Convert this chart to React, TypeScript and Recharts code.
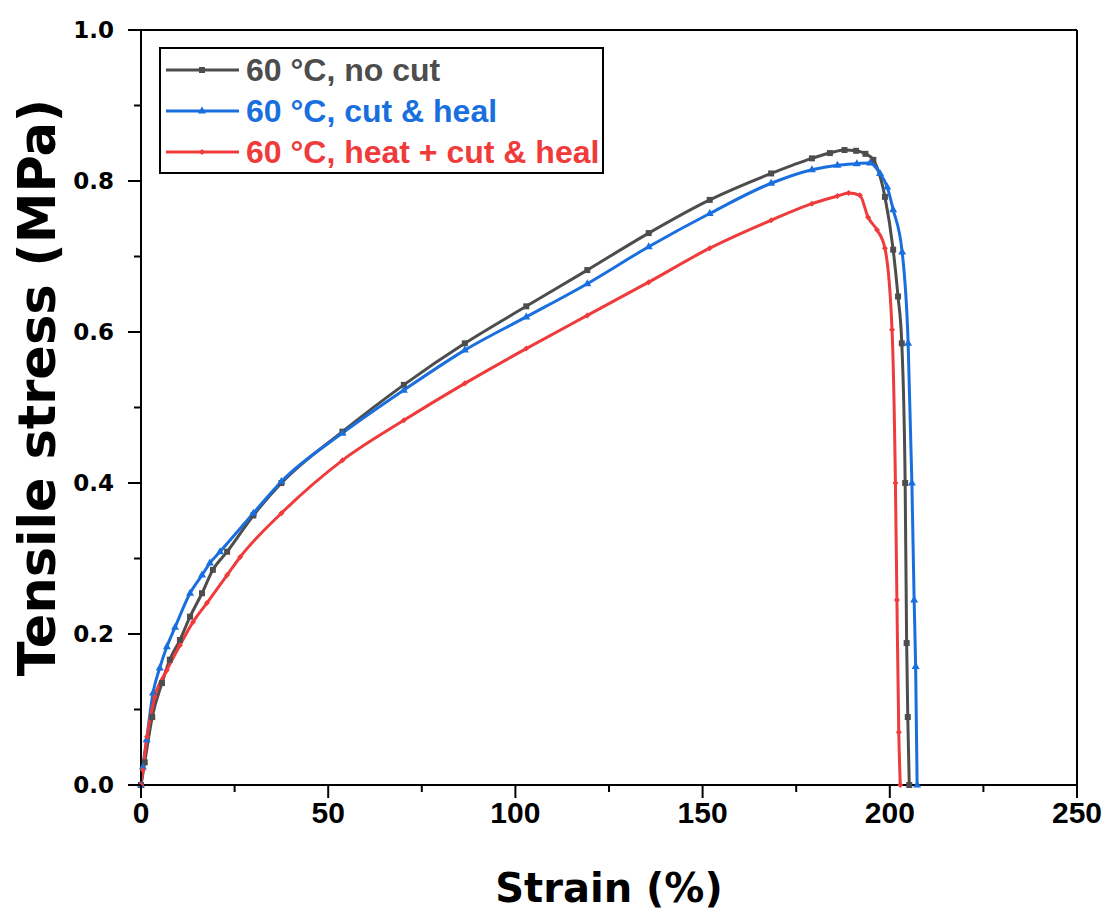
import React from "react";
import { LineChart, Line, XAxis, YAxis, ReferenceLine } from "recharts";

// strain (%) / tensile stress (MPa)
const noCutX = [0, 1, 3, 5.6, 7.7, 10.4, 13.1, 16.3, 19.2, 23, 30, 37.5, 53.8, 70.2, 86.5, 102.9, 119.2, 135.6, 151.9, 168.3, 179.2, 184, 187.9, 191, 193.5, 195.6, 198.7, 200.9, 202.2, 203.2, 204.1, 204.5, 204.8, 205.2];
const noCutY = [0, 0.03, 0.09, 0.135, 0.166, 0.192, 0.223, 0.254, 0.285, 0.309, 0.357, 0.4, 0.468, 0.53, 0.585, 0.634, 0.682, 0.731, 0.775, 0.81, 0.83, 0.837, 0.841, 0.84, 0.836, 0.828, 0.779, 0.709, 0.647, 0.585, 0.4, 0.188, 0.09, 0];

const healX = [0, 0.5, 1.5, 3.2, 5, 6.9, 9.1, 13.1, 16.3, 18.4, 21.1, 30, 37.5, 53.8, 70.2, 86.5, 102.9, 119.2, 135.6, 151.9, 168.3, 179.2, 186, 191.2, 194.7, 197.4, 199.3, 200.9, 203.3, 204.9, 205.9, 206.5, 206.9, 207.3];
const healY = [0, 0.024, 0.06, 0.122, 0.155, 0.183, 0.209, 0.254, 0.278, 0.294, 0.309, 0.36, 0.402, 0.466, 0.523, 0.576, 0.62, 0.664, 0.713, 0.757, 0.797, 0.815, 0.821, 0.823, 0.824, 0.81, 0.792, 0.762, 0.706, 0.585, 0.4, 0.245, 0.157, 0];

const heatX = [0, 0.5, 1.6, 3.7, 6.9, 10.4, 13.9, 17.6, 23, 26.5, 37.5, 53.8, 70.2, 86.5, 102.9, 119.2, 135.6, 151.9, 168.3, 179.2, 186, 189, 192, 194.2, 196.6, 198.7, 200.6, 201.5, 201.9, 202.4, 202.8];
const heatY = [0, 0.02, 0.064, 0.117, 0.152, 0.185, 0.216, 0.241, 0.278, 0.302, 0.36, 0.43, 0.483, 0.532, 0.578, 0.622, 0.666, 0.711, 0.748, 0.77, 0.78, 0.784, 0.781, 0.752, 0.735, 0.711, 0.603, 0.4, 0.245, 0.07, 0];

const xTicks = [0, 25, 50, 75, 100, 125, 150, 175, 200, 225, 250];
const yTicks = [0, 0.1, 0.2, 0.3, 0.4, 0.5, 0.6, 0.7, 0.8, 0.9, 1.0];

const series = [
  { name: "60 °C, no cut", color: "#4d4d4d", shape: "square", xs: noCutX, ys: noCutY },
  { name: "60 °C, cut & heal", color: "#1a6fdf", shape: "triangle", xs: healX, ys: healY },
  { name: "60 °C, heat + cut & heal", color: "#ef3b3b", shape: "diamond", xs: heatX, ys: heatY },
];

function markerPath(shape: string, cx: number, cy: number) {
  if (shape === "square") return `M${cx - 3},${cy - 3}h6v6h-6z`;
  if (shape === "triangle") return `M${cx},${cy - 4.5}L${cx + 4},${cy + 2.5}L${cx - 4},${cy + 2.5}z`;
  return `M${cx},${cy - 3}L${cx + 3},${cy}L${cx},${cy + 3}L${cx - 3},${cy}z`;
}

const makeDot = (shape: string, color: string) => (p: any) => {
  if (p.cx == null || p.cy == null) return <g key={`${shape}-${p.index}`} />;
  return <path key={`${shape}-${p.index}`} d={markerPath(shape, p.cx, p.cy)} fill={color} />;
};

const XTick = (p: any) => {
  const v = p.payload.value;
  const major = v % 50 === 0;
  return (
    <g>
      <line x1={p.x} x2={p.x} y1={p.y} y2={p.y + (major ? 13 : 7)} stroke="#000" strokeWidth={2} />
      {major && (
        <text x={p.x} y={p.y + 38} textAnchor="middle" fontSize={30} fontWeight="bold" fontFamily="'Liberation Sans', Arial, sans-serif" fill="#000">
          {v}
        </text>
      )}
    </g>
  );
};

const YTick = (p: any) => {
  const v = p.payload.value;
  const major = Math.round(v * 10) % 2 === 0;
  return (
    <g>
      <line x1={p.x} x2={p.x - (major ? 13 : 7)} y1={p.y} y2={p.y} stroke="#000" strokeWidth={2} />
      {major && (
        <text x={p.x - 27} y={p.y} textAnchor="end" dominantBaseline="central" fontSize={23} fontWeight="bold" fontFamily="'DejaVu Sans', sans-serif" fill="#000">
          {v.toFixed(1)}
        </text>
      )}
    </g>
  );
};

export default function App() {
  const lines = series.map((s) => ({ ...s, data: s.xs.map((x, i) => ({ x, y: s.ys[i] })) }));
  return (
    <div style={{ position: "absolute", left: 0, top: 0, width: 1108, height: 918, background: "#fff" }}>
      <LineChart width={1108} height={918} margin={{ top: 30, right: 31, left: 0, bottom: 0 }}>
        <XAxis
          type="number"
          dataKey="x"
          domain={[0, 250]}
          ticks={xTicks}
          interval={0}
          tickSize={0}
          tickMargin={0}
          tickLine={false}
          tick={XTick}
          height={133}
          axisLine={{ stroke: "#000", strokeWidth: 2 }}
          allowDuplicatedCategory={false}
          label={{
            content: (lp: any) => (
              <text x={lp.viewBox.x + lp.viewBox.width / 2} y={lp.viewBox.y + 117} textAnchor="middle" fontSize={40} fontWeight="bold" fontFamily="'DejaVu Sans', sans-serif" fill="#000">
                Strain (%)
              </text>
            ),
          }}
        />
        <YAxis
          type="number"
          dataKey="y"
          domain={[0, 1]}
          ticks={yTicks}
          interval={0}
          tickSize={0}
          tickMargin={0}
          tickLine={false}
          tick={YTick}
          width={141}
          axisLine={{ stroke: "#000", strokeWidth: 2 }}
          label={{
            content: (lp: any) => {
              const cx = lp.viewBox.x + 55;
              const cy = lp.viewBox.y + lp.viewBox.height / 2 - 20;
              return (
                <text x={cx} y={cy} transform={`rotate(-90 ${cx} ${cy})`} textAnchor="middle" fontSize={51} fontWeight="bold" fontFamily="'DejaVu Sans', sans-serif" fill="#000">
                  Tensile stress (MPa)
                </text>
              );
            },
          }}
        />
        <ReferenceLine y={1} stroke="#000" strokeWidth={2} />
        <ReferenceLine x={250} stroke="#000" strokeWidth={2} />
        {lines.map((s) => (
          <Line
            key={s.name}
            data={s.data}
            dataKey="y"
            name={s.name}
            type="monotoneX"
            stroke={s.color}
            strokeWidth={3}
            dot={makeDot(s.shape, s.color)}
            activeDot={false}
            isAnimationActive={false}
          />
        ))}
      </LineChart>
      <div
        style={{
          position: "absolute",
          left: 159,
          top: 47,
          width: 441,
          height: 123,
          border: "2px solid #000",
          background: "#fff",
          fontFamily: "'Liberation Sans', Arial, sans-serif",
          fontWeight: "bold",
          fontSize: 32,
        }}
      >
        {series.map((s, i) => (
          <div key={s.name} style={{ position: "absolute", left: 3, top: 3 + i * 41, height: 36, display: "flex", alignItems: "center", whiteSpace: "nowrap" }}>
            <svg width={76} height={12} style={{ marginRight: 6 }}>
              <line x1={2} x2={75} y1={6} y2={6} stroke={s.color} strokeWidth={3} />
              <path d={markerPath(s.shape, 38, 6)} fill={s.color} />
            </svg>
            <span style={{ color: s.color }}>{s.name}</span>
          </div>
        ))}
      </div>
    </div>
  );
}
